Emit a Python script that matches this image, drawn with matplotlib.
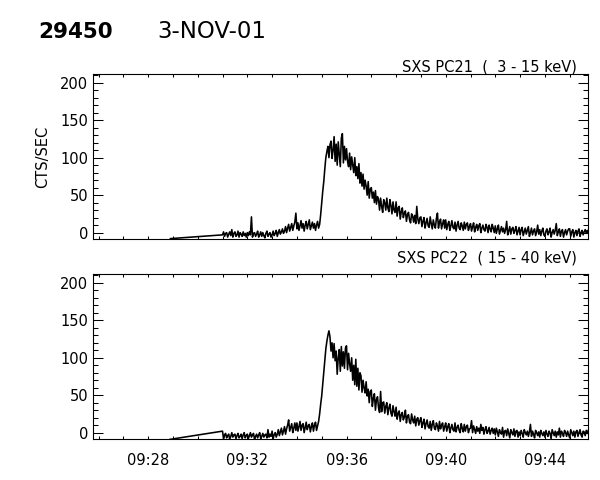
import numpy as np
import matplotlib
matplotlib.use('Agg')
import matplotlib.pyplot as plt
from matplotlib.ticker import MultipleLocator, FuncFormatter

# times are minutes after 09:00; samples every 2.5 s from 09:31:00 (one row per minute)
title_num = '29450'
title_date = '3-NOV-01'
labels = ['SXS PC21  (  3 - 15 keV)', 'SXS PC22  ( 15 - 40 keV)']
ylabel = 'CTS/SEC'
lead_t = [28.9, 28.88]
lead_v = [-8, -9]
t_start = 31.0
cadence_s = 2.5

pc21 = [
    -3, 1, -5, -1, 0, -6, -2, 1, -4, 4, -6, -1, 1, -5, -3, 2, -6, 0, -2, -5, 1, -4, -1, -6,
    0, -4, 1, -3, 21, -6, -1, 0, -5, -2, 2, -6, -3, 1, -5, 0, -4, -7, -1, 2, -5, -2, 0, -6,
    -3, 2, -4, -1, 3, -5, 0, 4, -2, 1, 5, -1, 2, 8, 0, 6, 11, 2, 7, 12, 3, 9, 14, 26,
    5, 13, 3, 9, 16, 6, 12, 2, 10, 15, 5, 11, 17, 4, 9, 14, 6, 12, 3, 10, 15, 6, 11, 24,
    40, 55, 68, 85, 100, 108, 115, 100, 117, 122, 99, 110, 128, 95, 118, 90, 121, 104, 88, 126, 132, 93, 115, 97,
    112, 95, 88, 106, 84, 101, 90, 80, 100, 76, 88, 72, 92, 66, 80, 62, 78, 58, 70, 62, 50, 68, 46, 58,
    60, 46, 54, 40, 56, 38, 48, 44, 30, 46, 35, 27, 44, 40, 30, 46, 33, 28, 44, 36, 25, 41, 30, 27,
    41, 22, 33, 35, 18, 28, 33, 20, 26, 29, 15, 24, 27, 17, 13, 25, 22, 14, 23, 12, 35, 18, 12, 20,
    21, 8, 15, 20, 6, 13, 19, 9, 7, 21, 12, 5, 17, 10, 6, 19, 26, 6, 14, 18, 5, 12, 17, 6,
    17, 4, 11, 15, 3, 9, 16, 7, 5, 14, 2, 10, 15, 6, 4, 13, 9, 3, 14, 5, 11, 13, 3, 8,
    12, 2, 8, 13, 1, 7, 11, 3, 9, 12, 0, 6, 10, 4, 2, 11, 7, 0, 10, 5, 1, 11, 6, 0,
    9, -1, 5, 10, -2, 3, 8, 1, 6, -1, 4, 15, -3, 2, 8, -2, 5, 7, -1, 3, 8, -3, 2, 7,
    -3, 4, 7, -4, 1, 6, -2, 3, 8, -5, 0, 6, -3, 2, 5, -4, 1, 10, -2, 4, -4, 2, 6, -3,
    -5, 2, 5, -3, 1, 6, -6, 0, 4, -2, 3, 12, -4, 1, 5, -5, 2, 4, -6, 0, 4, -3, 2, 5,
    5, -5, 1, 4, -6, 0, 3, -4, 2, 5, -5, 0, 3, -3, 1, 4, -1, 3, -1,
]

pc22 = [
    2, -8, -3, -1, -7, -4, -2, -9, -5, 0, -6, -3, -2, -8, -4, -1, -7, -5, -2, -8, -3, 0, -7, -4,
    -2, -8, -4, 0, -6, -3, -1, -9, -5, -2, -7, -3, 0, -8, -5, -1, -6, -3, -2, -7, 4, -6, -2, -5,
    2, -8, -3, 0, -6, -2, 4, -4, 1, 6, -3, 2, 8, -2, 5, 10, 17, 2, 7, 12, 0, 6, 13, 3,
    13, 2, 8, 15, 3, 10, 12, 0, 7, 14, 4, 9, 11, 1, 8, 13, 2, 10, 14, 3, 9, 15, 25, 38,
    49, 65, 82, 98, 112, 122, 130, 136, 128, 109, 120, 100, 119, 96, 109, 78, 100, 111, 82, 115, 89, 108, 86, 113,
    116, 84, 106, 92, 82, 100, 70, 90, 64, 98, 62, 86, 57, 80, 76, 54, 70, 60, 53, 68, 49, 58, 40, 55,
    57, 35, 46, 52, 30, 44, 48, 33, 27, 55, 28, 40, 41, 26, 35, 40, 24, 33, 38, 26, 22, 36, 28, 22,
    34, 18, 26, 29, 15, 24, 27, 17, 21, 30, 13, 22, 24, 14, 12, 25, 17, 13, 22, 9, 18, 20, 10, 16,
    20, 7, 13, 18, 5, 12, 17, 8, 6, 15, 3, 11, 16, 6, 4, 13, 9, 2, 15, 5, 10, 13, 2, 8,
    13, 2, 8, 12, 0, 6, 11, 4, 2, 13, 1, 7, 10, 3, 0, 12, 6, 1, 11, 2, 8, 10, 0, 5,
    6, 16, 0, 9, 4, -1, 8, 2, 6, -1, 11, 3, 7, -2, 4, 8, -1, 2, 7, -2, 3, 6, -1, 5,
    -3, 6, 1, -5, 4, 0, -2, 7, -6, 2, 3, -4, 5, -1, -7, 4, 0, -3, 5, -5, 2, 3, -6, 1,
    -4, 3, -1, -6, 4, 0, -3, 2, -5, 1, 11, -5, 2, -2, -7, 3, 0, -4, 1, -6, 3, -1, -4, 1,
    -6, 3, -2, -5, 2, -1, -8, 4, 0, -4, 2, -6, 1, -3, 6, -6, 2, -1, -5, 3, 0, -5, 2, -3,
    -7, 4, 0, -4, 2, -6, 1, 3, -5, 0, 4, -3, -6, 2, 1, -4, 3, -1, 3,
]


def series(i, vals):
    t = t_start + np.arange(len(vals)) * cadence_s / 60.0
    return np.concatenate([[lead_t[i]], t]), np.concatenate([[lead_v[i]], vals])


def style_axes(ax, show_x):
    ax.set_xlim(25.79, 45.75)
    ax.set_ylim(-8.5, 211.5)
    ax.xaxis.set_major_locator(MultipleLocator(4))
    ax.xaxis.set_minor_locator(MultipleLocator(1))
    ax.yaxis.set_major_locator(MultipleLocator(50))
    ax.yaxis.set_minor_locator(MultipleLocator(10))
    ax.xaxis.set_major_formatter(FuncFormatter(lambda v, p: '09:%02d' % int(round(v))))
    ax.tick_params(axis='both', which='both', direction='in', top=True, right=True,
                   width=0.75, labelsize=10.5, colors='black')
    ax.tick_params(axis='x', which='both', length=2.5, pad=10, labelbottom=show_x)
    ax.tick_params(axis='y', which='major', length=7.5, pad=3.6)
    ax.tick_params(axis='y', which='minor', length=3.6)
    ax.tick_params(axis='y', labelright=False)
    for s in ax.spines.values():
        s.set_linewidth(0.8)


fig = plt.figure(figsize=(6, 4.8), dpi=100)
positions = [[0.1555, 0.5021, 0.825, 0.3437], [0.1555, 0.0854, 0.825, 0.3431]]

for i, vals in enumerate([pc21, pc22]):
    ax = fig.add_axes(positions[i])
    t, v = series(i, vals)
    ax.plot(t, v, color='black', lw=1.15)
    style_axes(ax, show_x=(i == 1))
    if i == 0:
        ax.set_ylabel(ylabel, fontsize=10.5, labelpad=7)
    label_y = [67 / 480, 258 / 480][i]
    fig.text(577 / 600, 1 - label_y, labels[i], ha='right', va='center', fontsize=10.5)

fig.text(38 / 600, 1 - 32 / 480, title_num, ha='left', va='center', fontsize=15.5,
         fontweight='bold')
fig.text(157 / 600, 1 - 32 / 480, title_date, ha='left', va='center', fontsize=16.5)

fig.savefig('out.png', dpi=100)
